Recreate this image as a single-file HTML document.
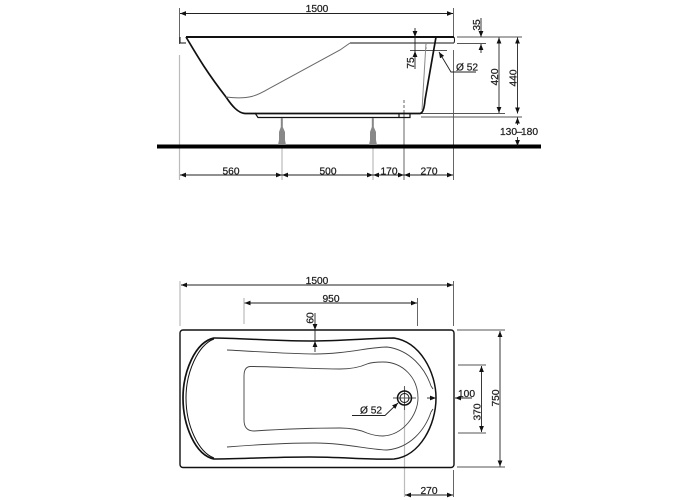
<!DOCTYPE html>
<html><head><meta charset="utf-8"><style>
html,body{margin:0;padding:0;background:#fff}
svg{display:block;filter:blur(.35px)}
text{font-family:"Liberation Sans",sans-serif;font-size:10.2px;fill:#222;stroke:#222;stroke-width:.25}
</style></head><body>
<svg width="700" height="500" viewBox="0 0 700 500" xmlns="http://www.w3.org/2000/svg">
<defs>
<marker id="a" viewBox="0 0 10 8" refX="10" refY="4" markerWidth="6" markerHeight="4.8" markerUnits="userSpaceOnUse" orient="auto-start-reverse"><path d="M0 0L10 4L0 8z" fill="#111"/></marker>
</defs>
<!-- extension lines -->
<g stroke="#bbb" stroke-width="1.2" fill="none">
<path d="M179.500 55V180M282 118V180M373 118V180"/>
<path d="M180 281V326M244 298V324"/>
<path d="M404.500 387V497"/>
</g>
<g stroke="#555" stroke-width=".9" fill="none">
<path d="M179.500 8V44M453.500 8V37M453.500 50V180M404 113V180"/>
<path d="M404 100V113" stroke-dasharray="3 2"/>
<path d="M457 37H522M457 43.500H486M421 113.500H505M421 117H522"/>
<path d="M457 330H505M457 467H505M458 365H486M458 433H486"/>
<path d="M453.500 470V497M453.500 281V326M417.500 298V326"/>
<path d="M393 398H416M404.500 386V410"/>
<path d="M410 50.500H447"/>
<path d="M426 43V50" stroke-dasharray="2 2"/>
</g>
<!-- side view -->
<g fill="none" stroke="#111">
<path d="M186 37H454" stroke-width="2"/>
<path d="M180 37V43H186M454 37Q455 40 454 43" stroke-width="1"/>
<path d="M350 43H454" stroke-width="1"/>
<path d="M186 37C195 52 205 70 226 97C232 106 238 113 245 113.500H420Q424 113 425 100L436 37" stroke-width="1.700"/>
<path d="M226 97C250 100 258 95 270 88L340 50L350 43" stroke="#666" stroke-width="1"/>
<path d="M426 43L422 110" stroke="#888" stroke-width="1"/>
<path d="M255 113L258 117.500H399V113M399 117.500H410V113" stroke-width="1.200"/>
<path d="M157 146.500H541" stroke="#000" stroke-width="4"/>
</g>
<path d="M280.800 118H282.800V127L285 132V140L286 145H278L279 140V132L280.800 127Z" fill="#888"/>
<path d="M371.800 118H373.800V127L376 132V140L377 145H369L370 140V132L371.800 127Z" fill="#888"/>
<!-- top-view -->
<g fill="none" stroke="#111">
<rect x="180" y="330" width="274" height="137.500" rx="3" stroke-width="1.400"/>
<path d="M214 338C195 342 183 372 183 398C183 425 195 455 214 459" stroke-width="1.700"/>
<path d="M214 339C198 345 186 372 186 398C186 425 198 452 214 458" stroke-width="1"/>
<path d="M214 338C240 338 270 341 310 341C340 341 375 338 394 338C420 342 436 372 436 398C436 425 420 456 394 459C375 460 340 457 310 457C270 457 240 459 214 459" stroke-width="1.500"/>
<path d="M227 350C265 352 290 354 315 354C345 354 370 347 387 347C410 350 425 368 431 386" stroke="#444" stroke-width=".9"/>
<path d="M227 447C265 444 290 443 315 443C345 443 370 450 387 450C410 448 425 430 431 412" stroke="#444" stroke-width=".9"/>
<path d="M431 386L433 389M431 412L433 409" stroke="#444"/>
<path d="M254 366.500H250Q244 367 244 376V420Q244 431 254 431C285 429 320 428 340 428C350 428 358 429 367 433C375 436 380 436 383 436C403 435 418 415 418 398C418 378 403 362 383 362C378 362 372 362 367 364C358 368 350 369 340 369C315 369 285 367 254 366.500Z" stroke="#444" stroke-width=".9"/>
<circle cx="404.500" cy="398" r="7" stroke-width="1.500"/>
<circle cx="404.500" cy="398" r="4.500" stroke-width="1"/>
</g>
<!-- dimension lines -->
<g stroke="#222" stroke-width=".9" fill="none" marker-start="url(#a)" marker-end="url(#a)">
<path d="M180 13.500H453"/>
<path d="M180 175H282"/><path d="M282 175H373"/><path d="M373 175H404"/><path d="M404 175H453"/>
<path d="M499 37.500V113"/><path d="M517.500 37.500V113.500"/>
<path d="M181 285H453"/><path d="M244.500 303H417"/>
<path d="M500 331V466.500"/><path d="M481.500 366V432"/>
<path d="M405 495H453"/>
</g>
<g stroke="#222" stroke-width=".9" fill="none">
<path d="M481 18V37" marker-end="url(#a)"/><path d="M481 53V44" marker-end="url(#a)"/>
<path d="M415 28V37" marker-end="url(#a)"/><path d="M415 69V51" marker-end="url(#a)"/><path d="M415 37V51"/>
<path d="M517.500 125V117.500" marker-end="url(#a)"/><path d="M517.500 137V146" marker-end="url(#a)"/>
<path d="M315 313V330" marker-end="url(#a)"/><path d="M315 352V341" marker-end="url(#a)"/><path d="M315 330V341"/>
<path d="M427 398H436" marker-end="url(#a)"/><path d="M472 398H455" marker-end="url(#a)"/>
<path d="M476 72H451L439 52" marker-end="url(#a)"/>
<path d="M352 415.500H385L398 403" marker-end="url(#a)"/>
</g>
<!-- labels -->
<text x="317" y="12" text-anchor="middle">1500</text>
<text x="231" y="174.500" text-anchor="middle">560</text>
<text x="328" y="174.500" text-anchor="middle">500</text>
<text x="389" y="174.500" text-anchor="middle">170</text>
<text x="429" y="174.500" text-anchor="middle">270</text>
<text x="456" y="70.500">Ø 52</text>
<text x="500" y="135">130</text><text x="516.500" y="135">–</text><text x="521" y="135">180</text>
<text transform="translate(480 25) rotate(-90)" text-anchor="middle">35</text>
<text transform="translate(414 63) rotate(-90)" text-anchor="middle">75</text>
<text transform="translate(498 77) rotate(-90)" text-anchor="middle">420</text>
<text transform="translate(516.500 78) rotate(-90)" text-anchor="middle">440</text>
<text x="317" y="284" text-anchor="middle">1500</text>
<text x="331" y="302" text-anchor="middle">950</text>
<text transform="translate(313.500 318) rotate(-90)" text-anchor="middle">60</text>
<text x="360" y="413.500">Ø 52</text>
<text x="458" y="397">100</text>
<text transform="translate(480.500 412) rotate(-90)" text-anchor="middle">370</text>
<text transform="translate(499 398) rotate(-90)" text-anchor="middle">750</text>
<text x="429" y="494" text-anchor="middle">270</text>
</svg>
</body></html>
